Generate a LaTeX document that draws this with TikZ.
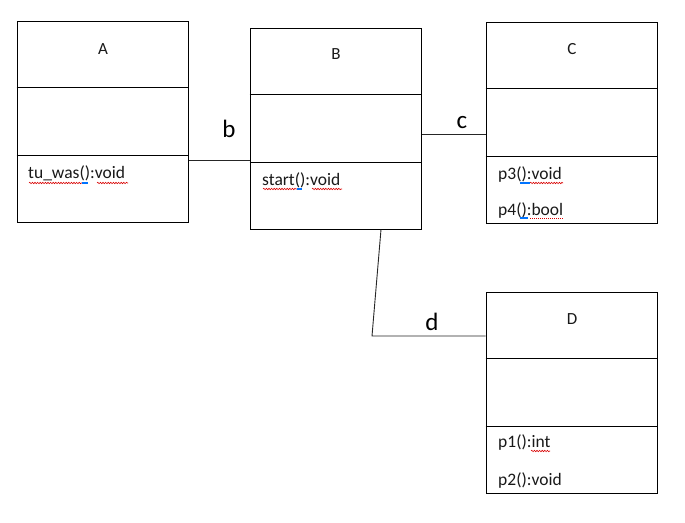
\documentclass[tikz,border=0pt]{standalone}
\usepackage{fontspec}
\setmainfont{Carlito}
\usetikzlibrary{decorations.pathmorphing,calc}
\tikzset{
  cls/.style={draw=black, line width=1pt, minimum width=171pt, minimum height=201pt, inner sep=0pt, fill=white},
  conn/.style={draw=black!85, line width=0.9pt},
  txt/.style={font=\fontsize{17.5}{19}\selectfont, anchor=base west, inner sep=0pt, text=black!90},
  ttl/.style={font=\fontsize{17}{19}\selectfont, anchor=base, inner sep=0pt, text=black!90},
  lbl/.style={font=\fontsize{25}{27}\selectfont, anchor=base, inner sep=0pt},
  spell/.style={draw=red!85!black, line width=0.6pt, decorate, decoration={snake, amplitude=0.7pt, segment length=2.6pt}},
  spelldot/.style={draw=red!85!black, line width=0.7pt, dash pattern=on 1pt off 1pt},
  bluemark/.style={draw=blue!55!cyan, line width=2pt}
}
\begin{document}
\begin{tikzpicture}[x=1pt, y=-1pt]
\useasboundingbox (0,0) rectangle (685,522);
% boxes
\node[cls] (A) at (102.5,121.5) {};
\node[cls] (B) at (335.5,128.5) {};
\node[cls] (C) at (571.5,122.5) {};
\node[cls] (D) at (571.5,392.5) {};
\foreach \n in {A,B,C,D}{
  \draw[line width=1pt] ($(\n.north west)!1/3!(\n.south west)$) -- ($(\n.north east)!1/3!(\n.south east)$);
  \draw[line width=1pt] ($(\n.north west)!2/3!(\n.south west)$) -- ($(\n.north east)!2/3!(\n.south east)$);
}
% titles
\node[ttl] (tA) at (103,54) {A};
\node[ttl] (tB) at (336,59) {B};
\node[ttl] (tC) at (572,54) {C};
\node[ttl] (tD) at (572,324) {D};
% methods
\node[txt] (mA) at (28,178) {tu\_was():void};
\node[txt] (mB) at (262,185) {start():void};
\node[txt] (mC1) at (498,179) {p3():void};
\node[txt] (mC2) at (498,215) {p4():bool};
\node[txt] (mD1) at (498,447) {p1():int};
\node[txt] (mD2) at (498,485) {p2():void};
% spelling marks
\draw[spell] (29,183) -- (82,183);
\draw[spell] (97,183) -- (128,183);
\draw[bluemark] (82,182.5) -- (88,182.5);
\draw[spell] (263,189) -- (297,189);
\draw[spell] (312,189) -- (342,189);
\draw[bluemark] (297,188.5) -- (302,188.5);
\draw[spell] (530,183) -- (563,183);
\draw[bluemark] (520,182.5) -- (530,182.5);
\draw[spelldot] (530,218) -- (563,218);
\draw[bluemark] (520,217.5) -- (528,217.5);
\draw[spell] (531,451) -- (550,451);
% connectors
\coordinate (ab) at (0,160);
\coordinate (bc) at (0,134);
\coordinate (bend) at (372,336);
\draw[conn] (A.east |- ab) -- (B.west |- ab);
\draw[conn] (B.east |- bc) -- (C.west |- bc);
\draw[conn] ([xshift=45.5pt]B.south) -- (bend) -- (D.west |- bend);
% labels
\node[lbl] (lb) at (229,137) {b};
\node[lbl] (lc) at (462,128) {c};
\node[lbl] (ld) at (432,330) {d};
\end{tikzpicture}
\end{document}
